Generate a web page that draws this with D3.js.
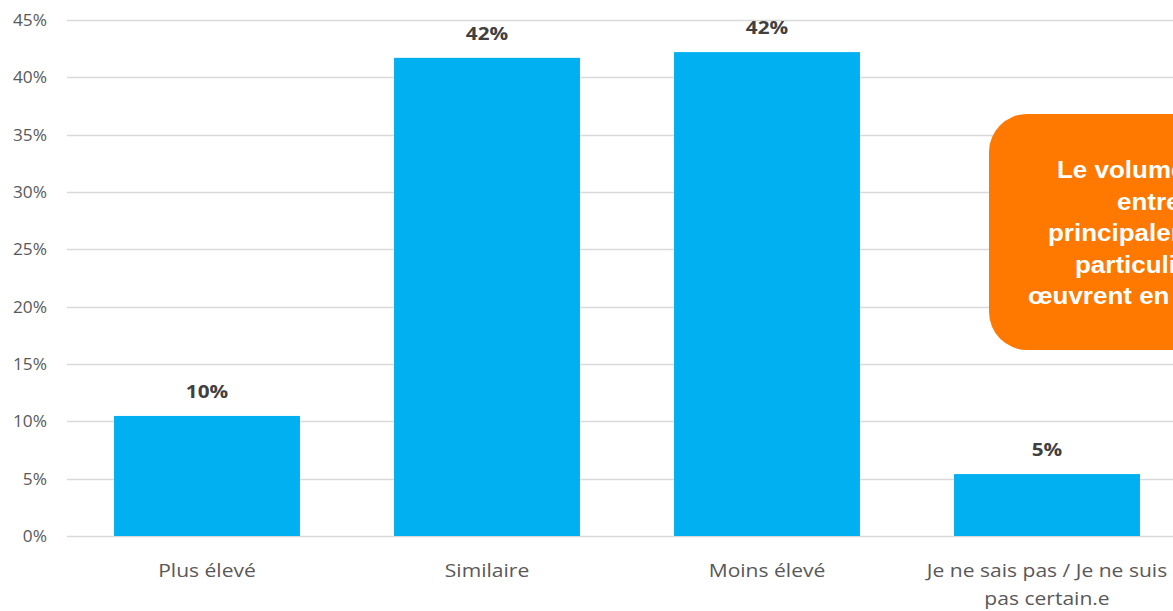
<!DOCTYPE html>
<html>
<head>
<meta charset="utf-8">
<script src="https://cdn.jsdelivr.net/npm/d3@7"></script>
<style>
  html, body { margin: 0; padding: 0; background: #fff; overflow: hidden; }
  svg { display: block; }
</style>
</head>
<body>
<svg id="chart" width="1173" height="611"></svg>
<script>
const categories = ["Plus élevé", "Similaire", "Moins élevé", "Je ne sais pas / Je ne suis pas certain.e"];
const categoryLines = [["Plus élevé"], ["Similaire"], ["Moins élevé"], ["Je ne sais pas / Je ne suis", "pas certain.e"]];
const values = [0.1047, 0.417, 0.422, 0.054];
const valueLabels = ["10%", "42%", "42%", "5%"];
const tickValues = [0, 0.05, 0.10, 0.15, 0.20, 0.25, 0.30, 0.35, 0.40, 0.45];
const calloutLines = ["Le volume d'affaires", "entre les", "principalement", "particuliers", "œuvrent en"];

const svg = d3.select("#chart");
const sx = 1.15;
const font = "'Open Sans', 'Noto Sans', sans-serif";

const y = d3.scaleLinear().domain([0, 0.45]).range([536, 20]);
const x = d3.scaleBand().domain(categories).range([67, 1187]).paddingInner(0.336).paddingOuter(0.168);

// gridlines
svg.append("g").selectAll("line").data(tickValues).join("line")
  .attr("x1", 67).attr("x2", 1187)
  .attr("y1", d => Math.round(y(d)) + 0.5).attr("y2", d => Math.round(y(d)) + 0.5)
  .attr("stroke", "#d9d9d9").attr("stroke-width", 1.5);

// tick labels
svg.append("g").selectAll("text").data(tickValues).join("text")
  .attr("transform", d => `translate(47,${y(d) + 6}) scale(1.08,1)`)
  .attr("text-anchor", "end")
  .attr("font-family", font).attr("font-size", 16).attr("fill", "#595959")
  .text(d => d3.format(".0%")(d));

// bars
svg.append("g").selectAll("rect").data(values).join("rect")
  .attr("x", (d, i) => x(categories[i]))
  .attr("y", d => y(d))
  .attr("width", x.bandwidth())
  .attr("height", d => y(0) - y(d))
  .attr("fill", "#00b0f0");

// value labels
svg.append("g").selectAll("text").data(values).join("text")
  .attr("transform", (d, i) => `translate(${x(categories[i]) + x.bandwidth() / 2},${y(d) - 18}) scale(${sx},1)`)
  .attr("text-anchor", "middle")
  .attr("font-family", font).attr("font-weight", "bold").attr("font-size", 18).attr("fill", "#404040")
  .text((d, i) => valueLabels[i]);

// category labels
const cat = svg.append("g").selectAll("g").data(categories).join("g");
cat.each(function(c, i) {
  const g = d3.select(this);
  categoryLines[i].forEach((ln, j) => {
    g.append("text")
      .attr("transform", `translate(${x(c) + x.bandwidth() / 2},${577 + j * 28}) scale(1.17,1)`)
      .attr("text-anchor", "middle")
      .attr("font-family", font).attr("font-size", 18).attr("fill", "#595959")
      .text(ln);
  });
});

// callout
svg.append("rect")
  .attr("x", 989).attr("y", 114).attr("width", 320).attr("height", 236)
  .attr("rx", 38).attr("ry", 38)
  .attr("fill", "#ff7800");
const calloutStarts = [1057, 1117, 1048, 1075, 1028];
const calloutBase = [178, 210, 241, 273, 304];
svg.append("g").selectAll("text").data(calloutLines).join("text")
  .attr("transform", (d, i) => `translate(${calloutStarts[i]},${calloutBase[i]}) scale(1.13,1)`)
  .attr("text-anchor", "start")
  .attr("font-family", "'Liberation Sans', Arial, sans-serif").attr("font-weight", "bold")
  .attr("font-size", 23).attr("fill", "#ffffff")
  .text(d => d);
</script>
</body>
</html>
